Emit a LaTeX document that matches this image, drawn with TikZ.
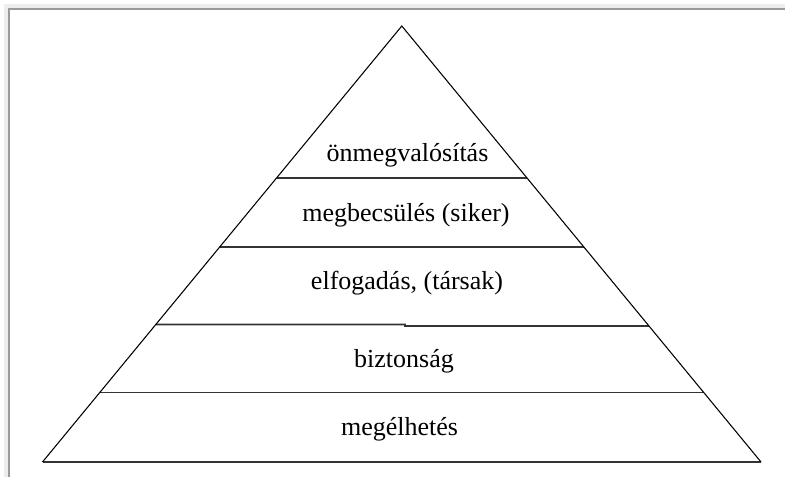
\documentclass[tikz,border=0pt]{standalone}
\usepackage{fontspec}
\setmainfont{Liberation Serif}
\usetikzlibrary{calc}
\definecolor{bandgray}{HTML}{EDEDED}
\definecolor{framegray}{HTML}{9A9A9A}
\definecolor{levelline}{HTML}{333333}
\begin{document}
\begin{tikzpicture}[x=0.75pt,y=-0.75pt,
  side/.style={draw=black,line width=0.8pt},
  level/.style={draw=levelline,line width=1.4pt},
  lbl/.style={font=\fontsize{19.5pt}{22pt}\selectfont,anchor=base,inner sep=0pt}]
\useasboundingbox[fill=white] (0,0) rectangle (785,477);
% window frame
\fill[bandgray] (4,4) rectangle (785,8);
\fill[bandgray] (4,4) rectangle (8,477);
\draw[framegray,line width=1.5pt] (9,477) -- (9,9) -- (785,9);
% pyramid corners
\coordinate (A) at (401.8,26);
\coordinate (L) at (42.5,462);
\coordinate (R) at (761,462);
% level end points
\coordinate (l1) at ($(A)!152/436!(L)$);
\coordinate (r1) at ($(A)!152/436!(R)$);
\coordinate (l2) at ($(A)!221/436!(L)$);
\coordinate (r2) at ($(A)!221/436!(R)$);
\coordinate (l3) at ($(A)!298.5/436!(L)$);
\coordinate (r3) at ($(A)!300/436!(R)$);
\coordinate (l4) at ($(A)!366.5/436!(L)$);
\coordinate (r4) at ($(A)!366.5/436!(R)$);
\coordinate (s1) at (405,324.5);
\coordinate (s2) at (405,326);
% levels
\draw[level] (l1) -- (r1);
\draw[level] (l2) -- (r2);
\draw[level] (l3) -- (s1) -- (s2) -- (r3);
\draw[level] (l4) -- (r4);
\draw[level] (L) -- (R);
% sides
\draw[side] (L) -- (A) -- (R);
% labels
\node[lbl] (t1) at (407.5,162) {önmegvalósítás};
\node[lbl] (t2) at (406,222) {megbecsülés (siker)};
\node[lbl] (t3) at (407,290) {elfogadás, (társak)};
\node[lbl] (t4) at (404,367) {biztonság};
\node[lbl] (t5) at (399.5,435) {megélhetés};
\end{tikzpicture}
\end{document}
